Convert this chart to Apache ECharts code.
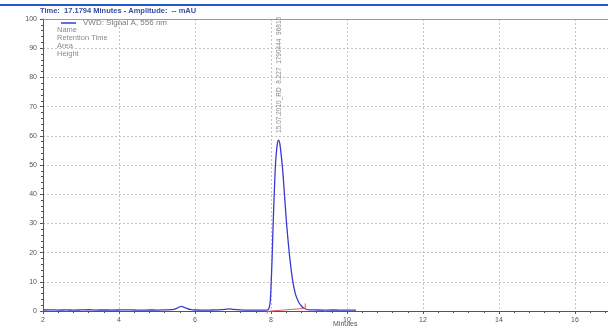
<!DOCTYPE html>
<html>
<head>
<meta charset="utf-8">
<script src="https://cdn.jsdelivr.net/npm/echarts@6/dist/echarts.min.js"></script>
<style>html,body{margin:0;padding:0;background:#fff;}#c{width:608px;height:331px;}</style>
</head>
<body>
<div id="c"></div>
<script>
// Data
const times = [2.0,2.2,2.4,2.6,2.8,3.0,3.2,3.4,3.6,3.8,4.0,4.2,4.4,4.6,4.8,5.0,5.2,5.4,5.5,5.6,5.65,5.7,5.8,5.9,6.0,6.2,6.4,6.6,6.8,6.9,7.0,7.2,7.4,7.6,7.8,7.9,7.95,7.98,8.00,8.03,8.05,8.08,8.11,8.14,8.17,8.20,8.23,8.26,8.31,8.36,8.41,8.48,8.57,8.65,8.73,8.80,8.86,8.93,9.0,9.2,9.4,9.6,9.8,10.0,10.24];
const signal = [0.35,0.40,0.32,0.38,0.30,0.36,0.42,0.33,0.37,0.30,0.35,0.40,0.34,0.28,0.36,0.32,0.38,0.45,0.8,1.45,1.55,1.35,0.8,0.45,0.35,0.30,0.33,0.38,0.55,0.75,0.55,0.36,0.30,0.33,0.30,0.32,1.0,3.2,8.0,18.0,27.0,38.0,48.0,54.0,57.5,58.5,57.5,54.5,48.0,39.0,30.0,20.0,10.5,5.5,3.0,1.7,1.0,0.6,0.4,0.35,0.30,0.36,0.32,0.30,0.28];
const baselineTimes = [7.9, 7.9, 8.9, 8.9];
const baselineValues = [-0.9, -0.1, 0.9, 2.6];
const peakTime = 8.22;
const peakLabelValue = 61;
const peakText = '15.07.2010_RD  8.227  1790444  96815';
const seriesName = 'VWD: Signal A, 556 nm';
const infoLines = ['Name', 'Retention Time', 'Area', 'Height'];
const headerText = 'Time:  17.1794 Minutes - Amplitude:  -- mAU';
const xLabelName = 'Minutes';

const chart = echarts.init(document.getElementById('c'), null, {renderer: 'canvas'});
const font = 'Liberation Sans, Arial, sans-serif';
const axisCol = '#555';
const gridLine = {show: true, lineStyle: {color: '#c4c4c4', type: [2, 2], width: 1}};

const option = {
  animation: false,
  backgroundColor: '#fff',
  textStyle: {fontFamily: font},
  grid: {left: 43, right: 0, top: 19, bottom: 20, containLabel: false},
  legend: {
    data: [seriesName], left: 56, top: 14, icon: 'rect', itemWidth: 15, itemHeight: 1.5, itemGap: 4,
    textStyle: {fontSize: 8, color: '#7a7a7a', fontFamily: font, padding: [0, 0, 0, 2]}
  },
  xAxis: [{
    type: 'value', min: 2, max: 16.87, interval: 2, offset: 2,
    axisLine: {show: true, lineStyle: {color: axisCol, width: 1}},
    axisTick: {show: true, length: 3, lineStyle: {color: axisCol}},
    minorTick: {show: true, splitNumber: 5, length: 2, lineStyle: {color: axisCol}},
    axisLabel: {fontSize: 7, color: '#555', margin: 4, showMaxLabel: false,
      formatter: v => (Math.abs(v - Math.round(v)) < 1e-6 ? String(Math.round(v)) : '')},
    splitLine: gridLine
  }, {
    type: 'value', position: 'top', min: 2, max: 16.87,
    axisLine: {show: true, lineStyle: {color: '#999', width: 1}},
    axisTick: {show: false}, axisLabel: {show: false}, splitLine: {show: false}
  }],
  yAxis: {
    type: 'value', min: 0, max: 100, interval: 10,
    axisLine: {show: true, lineStyle: {color: axisCol, width: 1}},
    axisTick: {show: true, length: 3, lineStyle: {color: axisCol}},
    minorTick: {show: true, splitNumber: 5, length: 2, lineStyle: {color: axisCol}},
    axisLabel: {fontSize: 7, color: '#555', margin: 6},
    splitLine: gridLine
  },
  series: [{
    name: seriesName, type: 'line', xAxisIndex: 0,
    data: times.map((t, i) => [t, signal[i]]),
    symbol: 'none', smooth: 0.2,
    lineStyle: {color: '#3a3ad0', width: 1.3}, itemStyle: {color: '#3a3ad0'},
    markPoint: {
      symbol: 'circle', symbolSize: 0, silent: true,
      data: [{coord: [peakTime, peakLabelValue]}],
      label: {show: true, position: 'inside', rotate: 90, align: 'left', verticalAlign: 'middle',
        formatter: peakText, fontSize: 6.5, color: '#8a8a8a', fontFamily: font}
    }
  }, {
    name: 'baseline', type: 'line', xAxisIndex: 0, clip: false,
    data: baselineTimes.map((t, i) => [t, baselineValues[i]]),
    symbol: 'none', lineStyle: {color: '#e06060', width: 1}
  }],
  graphic: [
    {type: 'rect', left: 0, top: 4, shape: {width: 608, height: 2}, style: {fill: '#2458d0'}, silent: true},
    {type: 'text', left: 40, top: 7, style: {text: headerText, fontSize: 7.5, fontWeight: 'bold', fill: '#3a4aa0', fontFamily: font}},
    {type: 'text', left: 57, top: 26, style: {text: infoLines.join('\n'), fontSize: 7.5, lineHeight: 8, fill: '#8a8a8a', fontFamily: font}},
    {type: 'text', left: 333, top: 321, style: {text: xLabelName, fontSize: 7, fill: '#555', fontFamily: font}}
  ]
};
chart.setOption(option);
</script>
</body>
</html>
